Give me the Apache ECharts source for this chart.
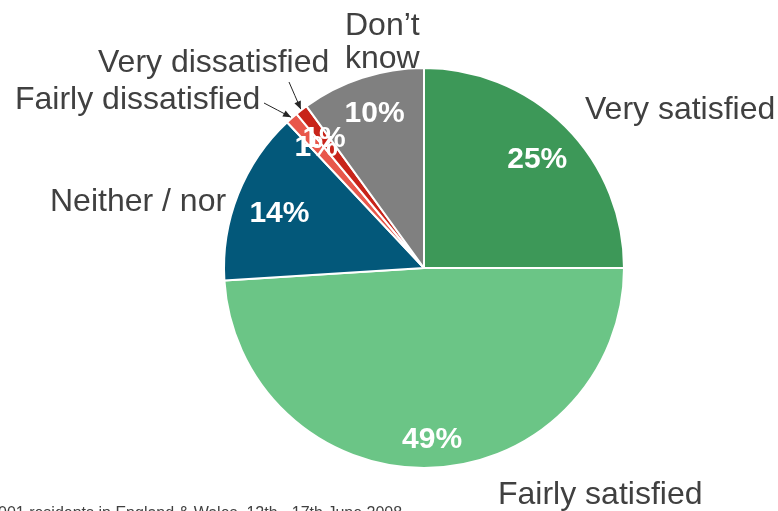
<!DOCTYPE html>
<html>
<head>
<meta charset="utf-8">
<script src="https://cdn.jsdelivr.net/npm/echarts@6/dist/echarts.min.js"></script>
<style>
  html, body { margin: 0; padding: 0; background: #ffffff; }
  #chart { width: 778px; height: 511px; }
</style>
</head>
<body>
<div id="chart"></div>
<script>
// Satisfaction shares, clockwise from 12 o'clock
const categories = ['Very satisfied', 'Fairly satisfied', 'Neither / nor', 'Fairly dissatisfied', 'Very dissatisfied', 'Don\u2019t know'];
const shares = [25, 49, 14, 1, 1, 10];
const sliceColors = ['#3d9858', '#6bc586', '#03587a', '#e8574b', '#c8241a', '#808080'];
const footnote = '001 residents in England & Wales, 12th - 17th June 2008';

// Where each category name sits (left edge, vertical middle)
const nameSpots = [
  { x: 585, y: 110 },
  { x: 498, y: 495 },
  { x: 50,  y: 202 },
  { x: 15,  y: 100 },
  { x: 98,  y: 63 },
  { x: 345, y: 43 }
];
// Nudges for the percentage labels inside the slices
const pctNudge = [[-2, 7], [3, 9], [7, 6], [0, 2], [0, 0], [1, 1]];
// Tails of the pointer arrows for the two thin slices
const arrowTails = { 3: [264, 103], 4: [289, 82] };

const CX = 424, CY = 268, R = 200;
const total = shares.reduce((a, b) => a + b, 0);

// Point on the rim at the middle of slice i
function rimPoint(i, extra) {
  let before = 0;
  for (let k = 0; k < i; k++) before += shares[k];
  const deg = 90 - 360 * (before + shares[i] / 2) / total;
  const rad = deg * Math.PI / 180;
  const r = R + (extra || 0);
  return [CX + r * Math.cos(rad), CY - r * Math.sin(rad)];
}

function arrowHead(tip, tail) {
  const dx = tip[0] - tail[0], dy = tip[1] - tail[1];
  const len = Math.sqrt(dx * dx + dy * dy);
  const ux = dx / len, uy = dy / len;
  const L = 8, W = 3.5;
  const bx = tip[0] - ux * L, by = tip[1] - uy * L;
  return [tip, [bx - uy * W, by + ux * W], [bx + uy * W, by - ux * W]];
}

const chart = echarts.init(document.getElementById('chart'), null, { renderer: 'canvas' });

const nameData = categories.map((c, i) => ({
  name: i === 5 ? 'Don\u2019t\nknow' : c,
  value: shares[i],
  itemStyle: { color: sliceColors[i] },
  labelLine: { show: arrowTails[i] !== undefined }
}));

const pctData = categories.map((c, i) => ({ name: c, value: shares[i] }));

const graphics = [];
Object.keys(arrowTails).forEach(k => {
  const i = +k;
  const tip = rimPoint(i, 1);
  graphics.push({
    type: 'polygon',
    shape: { points: arrowHead(tip, arrowTails[i]) },
    style: { fill: '#262626' },
    z: 100
  });
});
graphics.push({
  type: 'text',
  left: -2,
  top: 506,
  style: {
    text: footnote,
    font: '16px "Liberation Sans", Arial, sans-serif',
    fill: '#404040'
  }
});

chart.setOption({
  animation: false,
  backgroundColor: '#ffffff',
  graphic: graphics,
  series: [
    {
      type: 'pie',
      center: [CX, CY],
      radius: [0, R],
      startAngle: 90,
      clockwise: true,
      avoidLabelOverlap: false,
      silent: true,
      itemStyle: { borderColor: '#ffffff', borderWidth: 2 },
      label: {
        show: true,
        position: 'outside',
        formatter: '{b}',
        fontFamily: '"Liberation Sans", Arial, sans-serif',
        fontSize: 32,
        lineHeight: 33,
        color: '#404040'
      },
      labelLine: { show: false, lineStyle: { color: '#262626', width: 1 } },
      labelLayout: function (params) {
        const i = params.dataIndex;
        const spot = nameSpots[i];
        const out = { x: spot.x, y: spot.y, align: 'left', verticalAlign: 'middle' };
        if (arrowTails[i]) {
          const tip = rimPoint(i, 1);
          const tail = arrowTails[i];
          out.labelLinePoints = [tip, [(tip[0] + tail[0]) / 2, (tip[1] + tail[1]) / 2], tail];
        }
        return out;
      },
      data: nameData
    },
    {
      // transparent ring that carries the percentage labels at ~0.8 R
      type: 'pie',
      center: [CX, CY],
      radius: [120, R],
      startAngle: 90,
      clockwise: true,
      silent: true,
      z: 5,
      avoidLabelOverlap: false,
      itemStyle: { color: 'rgba(0,0,0,0)', borderWidth: 0 },
      label: {
        show: true,
        position: 'inside',
        formatter: '{c}%',
        fontFamily: '"Liberation Sans", Arial, sans-serif',
        fontWeight: 'bold',
        fontSize: 30,
        color: '#ffffff'
      },
      labelLine: { show: false },
      labelLayout: function (params) {
        const n = pctNudge[params.dataIndex];
        return { dx: n[0], dy: n[1] };
      },
      data: pctData
    }
  ]
});
</script>
</body>
</html>
